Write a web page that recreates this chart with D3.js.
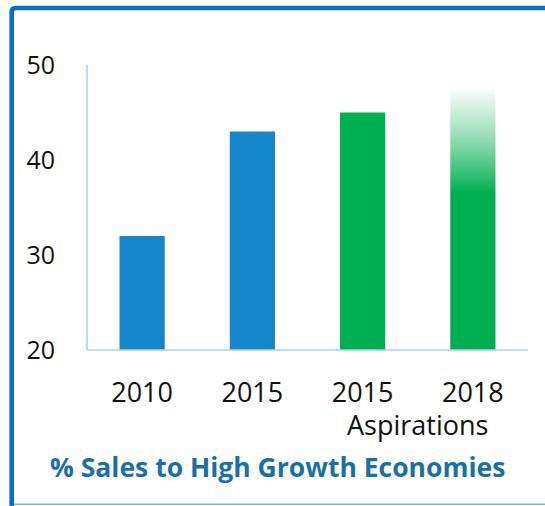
<!DOCTYPE html>
<html>
<head>
<meta charset="utf-8">
<script src="https://cdn.jsdelivr.net/npm/d3@7"></script>
<style>
  html, body { margin: 0; padding: 0; background: #fff; }
  svg { display: block; }
</style>
</head>
<body>
<svg id="chart" width="545" height="506"></svg>
<script>
// Share of sales going to high growth economies (%)
const categories = ["2010", "2015", "2015", "2018"];
const values = [32, 43, 45, 47.5];
const kinds = ["actual", "actual", "target", "target"];
const yTicks = [20, 30, 40, 50];
const groupLabel = "Aspirations";          // spans the two target bars
const title = "% Sales to High Growth Economies";

const svg = d3.select("#chart");
const W = 545, H = 506;

// Frame: heavy blue left/top edge, thin light line along the bottom
svg.append("path")
  .attr("d", "M11.7,506 V12 Q11.7,8 15.7,8 H560")
  .attr("fill", "none")
  .attr("stroke", "#0b6fbd")
  .attr("stroke-width", 4.6);
svg.append("line")
  .attr("x1", 14).attr("x2", W)
  .attr("y1", 504.3).attr("y2", 504.3)
  .attr("stroke", "#7bb6e2")
  .attr("stroke-width", 1.4);

const x = d3.scaleBand()
  .domain(d3.range(categories.length))
  .range([87, 528])
  .paddingInner(0.59)
  .paddingOuter(0.295);

const y = d3.scaleLinear()
  .domain([20, 50])
  .range([350, 65]);

// Fading fill for the furthest-out target
const defs = svg.append("defs");
const grad = defs.append("linearGradient")
  .attr("id", "fade")
  .attr("x1", 0).attr("y1", 1).attr("x2", 0).attr("y2", 0);
grad.append("stop").attr("offset", "0%").attr("stop-color", "#00b050").attr("stop-opacity", 1);
grad.append("stop").attr("offset", "60%").attr("stop-color", "#00b050").attr("stop-opacity", 1);
grad.append("stop").attr("offset", "80%").attr("stop-color", "#00b050").attr("stop-opacity", 0.45);
grad.append("stop").attr("offset", "100%").attr("stop-color", "#00b050").attr("stop-opacity", 0.02);

const fillFor = (i) => {
  if (kinds[i] === "actual") return "#1585cc";
  return i === values.length - 1 ? "url(#fade)" : "#00b050";
};

svg.append("g")
  .selectAll("rect")
  .data(values)
  .join("rect")
  .attr("x", (d, i) => x(i))
  .attr("width", x.bandwidth())
  .attr("y", d => y(d))
  .attr("height", d => y(20) - y(d))
  .attr("fill", (d, i) => fillFor(i));

// Axes
const axisColor = "#a3d6f6";
svg.append("line")
  .attr("x1", 87).attr("x2", 87)
  .attr("y1", y(50)).attr("y2", y(20))
  .attr("stroke", axisColor).attr("stroke-width", 1.6);
svg.append("line")
  .attr("x1", 87).attr("x2", 528)
  .attr("y1", y(20)).attr("y2", y(20))
  .attr("stroke", axisColor).attr("stroke-width", 1.6);

const font = "'Open Sans', 'DejaVu Sans', sans-serif";

svg.append("g")
  .selectAll("text")
  .data(yTicks)
  .join("text")
  .attr("x", 55)
  .attr("y", d => y(d))
  .attr("dy", "0.36em")
  .attr("text-anchor", "end")
  .attr("font-family", font)
  .attr("font-size", 25)
  .attr("fill", "#111")
  .text(d => d);

svg.append("g")
  .selectAll("text")
  .data(categories)
  .join("text")
  .attr("x", (d, i) => x(i) + x.bandwidth() / 2)
  .attr("y", 401.5)
  .attr("text-anchor", "middle")
  .attr("font-family", font)
  .attr("font-size", 27)
  .attr("fill", "#111")
  .text(d => d);

const targetIdx = d3.range(kinds.length).filter(i => kinds[i] === "target");
const groupCenter = d3.mean(targetIdx, i => x(i) + x.bandwidth() / 2);
svg.append("text")
  .attr("x", groupCenter)
  .attr("y", 435)
  .attr("text-anchor", "middle")
  .attr("font-family", font)
  .attr("font-size", 27)
  .attr("fill", "#111")
  .text(groupLabel);

svg.append("text")
  .attr("x", 50)
  .attr("y", 477)
  .attr("font-family", font)
  .attr("font-weight", "bold")
  .attr("font-size", 26.5)
  .attr("fill", "#1b70a3")
  .text(title);
</script>
</body>
</html>
